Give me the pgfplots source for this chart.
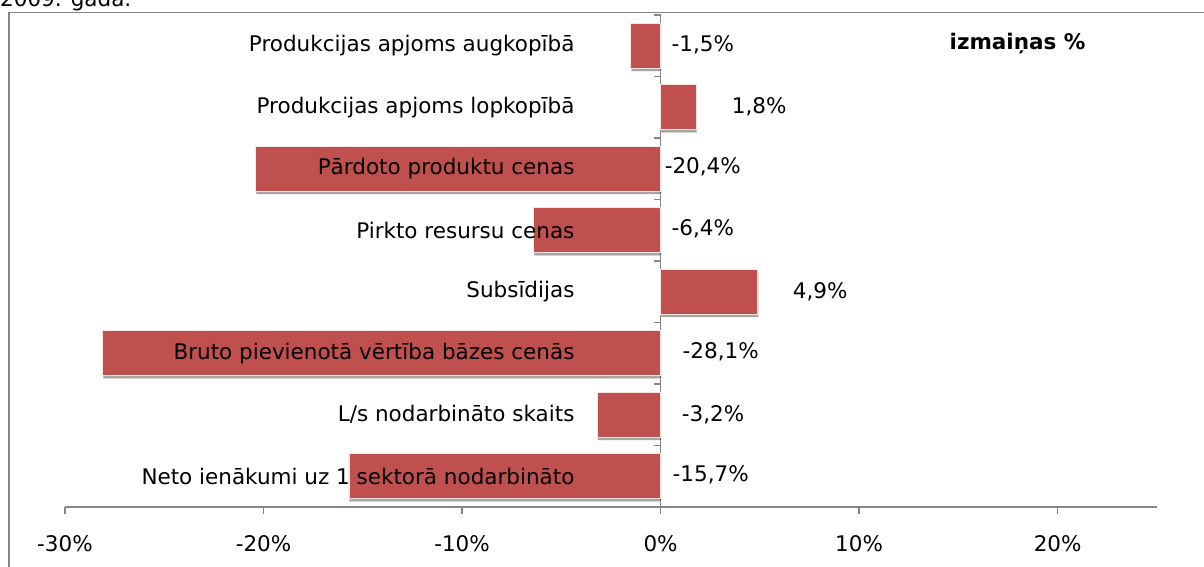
\documentclass[border=0pt]{standalone}
\usepackage{fontspec}
\setmainfont{DejaVu Sans}
\usepackage{pgfplots}
\pgfplotsset{compat=1.18}
\usetikzlibrary{shadows}
\definecolor{barred}{RGB}{192,80,77}
\definecolor{axgray}{RGB}{134,134,134}
\newcommand\f{\fontsize{21.5}{25}\selectfont}
\begin{document}
\begin{tikzpicture}[x=1pt,y=1pt]
\useasboundingbox (0,0) rectangle (1204,567);
\clip (0,0) rectangle (1204,567);
\draw[axgray, line width=1.5pt] (9,-5) -- (9,554.5) -- (1210,554.5);
\node[anchor=base west, inner sep=0, font=\f] at (0,560) {2009. gada.};
\begin{axis}[
  at={(65pt,60pt)}, anchor=south west, scale only axis,
  width=1092pt, height=492pt,
  xmin=-30, xmax=25, ymin=-0.5, ymax=7.5,
  axis x line=bottom, axis y line=middle,
  axis line style={-, draw=axgray, line width=1.6pt},
  xtick={-30,-20,-10,0,10,20},
  xticklabels={-30\%,-20\%,-10\%,0\%,10\%,20\%},
  ytick={-0.5,0.5,...,7.5}, yticklabels={},
  tick style={draw=axgray, line width=1.3pt},
  major tick length=7pt,
  tick align=outside,
  xticklabel style={font=\f, yshift=-18pt},
  clip=false,
]
\addplot[xbar, bar width=45pt, fill=barred, draw=white!85!barred, line width=0.8pt,
  drop shadow={shadow xshift=0.5pt, shadow yshift=-3pt, opacity=0.35, fill=black}]
  coordinates {(-1.5,7) (1.8,6) (-20.4,5) (-6.4,4) (4.9,3) (-28.1,2) (-3.2,1) (-15.7,0)};
\begin{scope}[every node/.style={anchor=east, inner sep=0, font=\f}]
\node at (axis cs:-4.33,7) {Produkcijas apjoms augkopībā};
\node at (axis cs:-4.33,6) {Produkcijas apjoms lopkopībā};
\node at (axis cs:-4.33,5) {Pārdoto produktu cenas};
\node at (axis cs:-4.33,4) {Pirkto resursu cenas};
\node at (axis cs:-4.33,3) {Subsīdijas};
\node at (axis cs:-4.33,2) {Bruto pievienotā vērtība bāzes cenās};
\node at (axis cs:-4.33,1) {L/s nodarbināto skaits};
\node at (axis cs:-4.33,0) {Neto ienākumi uz 1 sektorā nodarbināto};
\end{scope}
\begin{scope}[every node/.style={anchor=west, inner sep=0, font=\f}]
\node at (axis cs:0.55,7.02) {-1,5\%};
\node at (axis cs:3.58,6.0) {1,8\%};
\node at (axis cs:0.2,5.03) {-20,4\%};
\node at (axis cs:0.55,4.03) {-6,4\%};
\node at (axis cs:6.65,3.0) {4,9\%};
\node at (axis cs:1.1,2.02) {-28,1\%};
\node at (axis cs:1.06,1.0) {-3,2\%};
\node at (axis cs:0.6,0.03) {-15,7\%};
\end{scope}
\node[font=\f\bfseries, inner sep=0] at (axis cs:17.98,7.03) {izmaiņas \%};
\end{axis}
\end{tikzpicture}
\end{document}
